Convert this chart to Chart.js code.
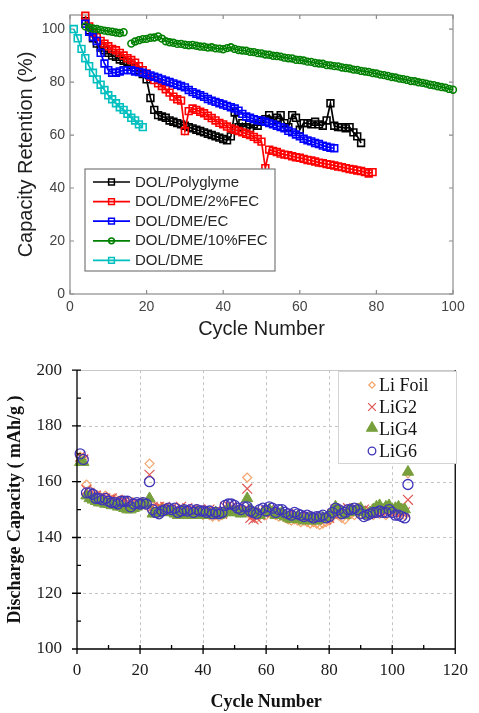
<!DOCTYPE html>
<html><head><meta charset="utf-8">
<script src="https://cdn.jsdelivr.net/npm/chart.js@4.4.1/dist/chart.umd.min.js"></script>
<style>
html,body{margin:0;padding:0;background:#fff;}
#wrap{position:relative;width:479px;height:713px;overflow:hidden;}
canvas{position:absolute;left:0;}
</style>
</head><body>
<div id="wrap">
<canvas id="topChart" width="479" height="345" style="top:0"></canvas>
<canvas id="botChart" width="479" height="368" style="top:345px"></canvas>
</div>
<script>
// ---------- TOP CHART DATA ----------
const topCycles = [1,2,3,4,5,6,7,8,9,10,11,12,13,14,15,16,17,18,19,20,21,22,23,24,25,26,27,28,29,30,31,32,33,34,35,36,37,38,39,40,41,42,43,44,45,46,47,48,49,50,51,52,53,54,55,56,57,58,59,60,61,62,63,64,65,66,67,68,69,70,71,72,73,74,75,76,77,78,79,80,81,82,83,84,85,86,87,88,89,90,91,92,93,94,95,96,97,98,99,100];
const topXTicks = [0,20,40,60,80,100];
const topYTicks = [0,20,40,60,80,100];
const topNames = ['DOL/Polyglyme','DOL/DME/2%FEC','DOL/DME/EC','DOL/DME/10%FEC','DOL/DME'];
const polyglyme = [null,null,null,103,99.5,96.5,94.5,93,92,91,90,89.5,88.5,88,87.5,86.5,85.5,84.5,83,81,74,69.5,67.5,67,66.5,65.5,65,64.5,64,63.5,63,62.5,62,61.5,61,60.5,60,59.5,59,58.5,58,59.5,68.5,63,64.5,63,62.5,64,63.5,65,66,67.5,65.5,66.5,67.5,64.5,63,67.5,66.5,62,64.5,64.5,64,65,64,63.5,65.5,72,63.5,63,63,62.5,63,61,59.5,57];
const fec2 = [null,null,null,105,101,98.5,97,95.5,94.5,93.5,92.5,92,91,90,89,88.3,87.3,86,84.5,83.2,82,80.7,79.5,78.5,77.3,76,74.5,73.5,73,61.5,69,70,69.5,68.8,68.2,67.3,66.4,65.5,64.6,64,63.2,62.5,62,61.5,61,60.5,60,59.3,58.5,57.5,47.5,54.5,54,53.6,53,52.6,52.4,52,51.6,51.4,51,50.6,50.4,50,49.6,49.4,49,48.8,48.5,48.1,47.9,47.5,47.2,47,46.6,46.4,46,45.5,46];
const ecSeries = [null,null,null,102,99,97,95.5,91,87,84.5,83.5,83.5,84,84.5,84.5,84.5,84,83.8,83.5,83,82.5,82,81.5,81,80.5,80,79.5,79,78.5,78,77,76.2,75.6,75,74.4,73.6,73,72.5,72,71.5,71,70.5,70,69.2,68,67,66.5,66,65.6,65.4,65,64.5,64,63.5,63,62.5,61.6,61,60.2,59.5,58.6,58,57.6,57,56.6,56,55.6,55.2,55];
const fec10 = [null,null,null,101,100.5,100.2,100,99.7,99.4,99.2,99,98.7,98.5,98.8,null,94.5,95.3,95.8,96.2,96.3,96.7,96.8,97.2,96.4,95.4,95.0,94.8,94.4,94.4,94.1,93.9,94.0,93.7,93.4,93.3,93.0,93.1,92.7,92.6,92.4,92.8,93.1,92.5,92.1,91.9,91.8,91.4,91.3,90.9,90.8,90.4,90.3,89.9,89.8,89.6,89.2,89.0,88.9,88.4,88.3,88.1,87.7,87.6,87.2,87.0,86.9,86.4,86.3,86.0,85.9,85.5,85.3,85.1,84.7,84.6,84.2,84.0,83.8,83.4,83.2,82.8,82.6,82.3,81.9,81.7,81.3,81.1,80.8,80.4,80.3,79.9,79.7,79.4,79.0,78.8,78.4,78.1,77.9,77.4,77.1];
const dolDme = [100,96.5,92.5,89,86,83.5,81,79,77,75,73.5,72,70.5,69.5,68,66.5,65.5,64,63];

// ---------- BOTTOM CHART DATA ----------
const botCycles = [1,2,3,4,5,6,7,8,9,10,11,12,13,14,15,16,17,18,19,20,21,22,23,24,25,26,27,28,29,30,31,32,33,34,35,36,37,38,39,40,41,42,43,44,45,46,47,48,49,50,51,52,53,54,55,56,57,58,59,60,61,62,63,64,65,66,67,68,69,70,71,72,73,74,75,76,77,78,79,80,81,82,83,84,85,86,87,88,89,90,91,92,93,94,95,96,97,98,99,100,101,102,103,104,105];
const botXTicks = [0,20,40,60,80,100,120];
const botYTicks = [100,120,140,160,180,200];
const botNames = ['Li Foil','LiG2','LiG4','LiG6'];
const liFoil = [169,168.5,159,157,156,155,155,154,155,154,
153.5,154,153,153.5,152.5,153,152,152.5,152,151.5,
152,151.5,166.5,151,150.5,150,151,150.5,150,149.5,
150,149,150,149.5,149,148.5,149,148.5,149,148,
148.5,148,147.5,148,147.5,148,150,150.5,150,149.5,
150,149,149.5,161.5,148,147.5,147,148,148.5,148,
149,148.5,148,147.5,148,147,146.5,146,146.5,146,
145.5,146,145.5,145,145.5,145,144.5,145,145.5,146,
147.5,148.5,148,147,146.5,148,148.5,148,149,148.5,
149,148,148.5,148,149,148.5,149,148,149,149.5,
148.5,149,148.5,148,163];
const liG2 = [169,168,157,156,155,155,154,154.5,154,153.5,
154,153,153.5,152.5,153,152.5,152,151.5,152.5,152,
152,152.5,162.5,151,150,151,150.5,151,150,150.5,
150,149.5,151,150,150.5,149.5,150,149.5,150,149,
149.5,150,149,149.5,149,148.5,151,151.5,151,150,
150.5,149.5,150,157.5,147,146.5,147,148,149,149.5,
150,149,148.5,149,148.5,148,148.5,147.5,148,147,
147.5,147,147.5,146.5,147,146.5,147,147.5,146.5,147,
148.5,150,149.5,149,149.5,150.5,150,150.5,150,149.5,
150,149,149.5,149,150,149.5,150,149.5,150,150.5,
149,149.5,149,149,153.5];
const liG4 = [167,167,155,154,153.5,153,152.5,152.5,152,152,
151.5,151.5,151,151,150.5,150,150,150.5,151,151.5,
152,152,154,148.5,148.5,149,149.5,149,149.5,149,
148.5,148,149,149.5,148,148.5,148,149,148.5,148,
148,148.5,148,149,148,148.5,149,150,149,149,
149,148.5,149,154,150,149,148.5,148,149,149,
150,149,148,148.5,149,147.5,147,146.5,147,147.5,
146.5,146,146.5,147,146,146,146.5,147,147,148,
149,151,150,149,148,149.5,150,149,150,150.5,
149,148,149,150,151,151.5,150,151,151.5,150,
150.5,151,150,150,163.5];
const liG6 = [170,168,156,156,155.5,154,154,153.5,154,153,
152.5,152.5,152,153,153,153,151,152,152.5,152,
152.5,152,160,150,149,148.5,149.5,150,150.5,150,
150.5,149,149.5,150,149.5,150,149,150,149.5,149.5,
149,149.5,148.5,149,148.5,149,151.5,152,152,151.5,
150.5,150,151,151,149.5,149,148.5,150,150.5,149.5,
151,150.5,149,150,150,149,148.5,148,149,148.5,
148,147.5,148,147.5,147,147.5,147.5,148,147,147.5,
149,150.5,150,148.5,149,150,150,150.5,150,148.5,
147.5,148,148.5,149,149,149.5,149,149,150,149,
148,148,147.5,147,159];

// ---------- helpers ----------
function pts(cycles, vals){ return cycles.map((c,i)=>({x:c, y:(vals[i]===undefined?null:vals[i])})); }
function drawMark(ctx, opts, x, y){
  if (Chart.helpers && Chart.helpers.drawPoint) { Chart.helpers.drawPoint(ctx, opts, x, y); }
  else { ctx.beginPath(); ctx.arc(x,y,opts.radius,0,Math.PI*2); ctx.fill(); ctx.stroke(); }
}
Chart.defaults.devicePixelRatio = 1;

const SANS = '"Liberation Sans", Arial, sans-serif';
const SERIF = '"Liberation Serif", "Times New Roman", serif';

// ---------- TOP CHART ----------
const topStyles = [
  {color:'#000000', shape:'rect', r:4.8, order:4},
  {color:'#ff0000', shape:'rect', r:4.8, order:3},
  {color:'#0000ff', shape:'rect', r:4.8, order:2},
  {color:'#008000', shape:'circle', r:3.4, order:1},
  {color:'#00bfbf', shape:'rect', r:4.8, order:0}
];
const topSeries = [polyglyme, fec2, ecSeries, fec10, dolDme];

const topFrame = {
  id:'topFrame',
  beforeDatasetsDraw(chart){
    const {ctx, chartArea:a, scales:{x,y}} = chart;
    ctx.save();
    ctx.strokeStyle = '#8c8c8c'; ctx.lineWidth = 1.2;
    ctx.strokeRect(a.left, a.top, a.right-a.left, a.bottom-a.top);
    ctx.beginPath();
    topXTicks.forEach(v=>{ const p=x.getPixelForValue(v); ctx.moveTo(p,a.bottom); ctx.lineTo(p,a.bottom-4); ctx.moveTo(p,a.top); ctx.lineTo(p,a.top+4); });
    topYTicks.forEach(v=>{ const p=y.getPixelForValue(v); ctx.moveTo(a.left,p); ctx.lineTo(a.left+4,p); ctx.moveTo(a.right,p); ctx.lineTo(a.right-4,p); });
    ctx.stroke();
    ctx.restore();
  },
  afterDatasetsDraw(chart){
    const {ctx} = chart;
    ctx.save();
    const bx=85, by=169, bw=190, bh=102;
    ctx.fillStyle='#ffffff'; ctx.fillRect(bx,by,bw,bh);
    ctx.strokeStyle='#7a7a7a'; ctx.lineWidth=1.2; ctx.strokeRect(bx,by,bw,bh);
    chart.data.datasets.forEach((ds,i)=>{
      const yy = by + 13 + i*19.6;
      ctx.strokeStyle = ds.borderColor; ctx.lineWidth = 1.7;
      ctx.beginPath(); ctx.moveTo(bx+8,yy); ctx.lineTo(bx+45,yy); ctx.stroke();
      ctx.fillStyle='rgba(0,0,0,0)'; ctx.lineWidth=1.5;
      drawMark(ctx,{pointStyle:ds.pointStyle, radius:ds.pointRadius*0.85, borderWidth:1.5, rotation:0}, bx+26.5, yy);
      ctx.fillStyle='#262626'; ctx.font='15px '+SANS; ctx.textBaseline='middle'; ctx.textAlign='left';
      ctx.fillText(ds.label, bx+50, yy+0.5);
    });
    ctx.restore();
  }
};

new Chart(document.getElementById('topChart'), {
  type:'scatter',
  data:{ datasets: topSeries.map((vals,i)=>({
    label: topNames[i], data: pts(topCycles, vals), showLine:true, spanGaps:false,
    borderColor: topStyles[i].color, backgroundColor:'rgba(0,0,0,0)',
    pointBorderColor: topStyles[i].color, pointBackgroundColor:'rgba(0,0,0,0)',
    pointStyle: topStyles[i].shape, pointRadius: topStyles[i].r, pointBorderWidth:1.6,
    borderWidth:1.7, order: topStyles[i].order, clip:false
  }))},
  options:{
    responsive:false, animation:false, events:[],
    layout:{padding:{left:0, right:26, top:15, bottom:0}},
    plugins:{legend:{display:false}, tooltip:{enabled:false}, title:{display:false}},
    scales:{
      x:{type:'linear', min:0, max:100, position:'bottom',
         afterBuildTicks:s=>{ s.ticks = topXTicks.map(v=>({value:v})); },
         afterFit:s=>{ s.height = 51; },
         grid:{display:false, drawTicks:false}, border:{display:false},
         ticks:{padding:5, color:'#444444', font:{family:SANS, size:14}, maxRotation:0, autoSkip:false},
         title:{display:true, text:'Cycle Number', color:'#1e1e1e', font:{family:SANS, size:20}, padding:{top:0, bottom:4}}},
      y:{type:'linear', min:0, max:105.3,
         afterBuildTicks:s=>{ s.ticks = topYTicks.map(v=>({value:v})); },
         afterFit:s=>{ s.width = 70; },
         grid:{display:false, drawTicks:false}, border:{display:false},
         ticks:{padding:5, color:'#444444', font:{family:SANS, size:14}},
         title:{display:true, text:'Capacity Retention (%)', color:'#1e1e1e', font:{family:SANS, size:20}, padding:{top:14, bottom:0}}}
    }
  },
  plugins:[topFrame]
});

// ---------- BOTTOM CHART ----------
const botStyles = [
  {color:'#f5a46c', fill:'rgba(0,0,0,0)', shape:'rectRot', r:4.5, bw:1.2, order:3},
  {color:'#e05555', fill:'rgba(0,0,0,0)', shape:'crossRot', r:7, bw:1.2, order:2},
  {color:'#77a03c', fill:'#77a03c', shape:'triangle', r:6.5, bw:1, order:1},
  {color:'#3f35b8', fill:'rgba(0,0,0,0)', shape:'circle', r:5, bw:1.3, order:0}
];
const botSeries = [liFoil, liG2, liG4, liG6];

const botFrame = {
  id:'botFrame',
  beforeDatasetsDraw(chart){
    const {ctx, chartArea:a, scales:{x,y}} = chart;
    ctx.save();
    ctx.strokeStyle='#c4c4c4'; ctx.lineWidth=1; ctx.setLineDash([3,3]);
    ctx.beginPath();
    botXTicks.forEach(v=>{ if(v>0 && v<120){ const p=Math.round(x.getPixelForValue(v))+0.5; ctx.moveTo(p,a.top); ctx.lineTo(p,a.bottom); }});
    botYTicks.forEach(v=>{ if(v>100 && v<200){ const p=Math.round(y.getPixelForValue(v))+0.5; ctx.moveTo(a.left,p); ctx.lineTo(a.right,p); }});
    ctx.stroke();
    ctx.setLineDash([]);
    ctx.strokeStyle='#c8c8c8';
    ctx.beginPath(); const pt=Math.round(y.getPixelForValue(200))+0.5; ctx.moveTo(a.left,pt); ctx.lineTo(a.right,pt); ctx.stroke();
    ctx.restore();
  },
  afterDatasetsDraw(chart){
    const {ctx, chartArea:a, scales:{x,y}} = chart;
    ctx.save();
    ctx.strokeStyle='#000'; ctx.lineWidth=1.3;
    ctx.beginPath();
    ctx.moveTo(a.left,a.top); ctx.lineTo(a.left,a.bottom); ctx.lineTo(a.right,a.bottom); ctx.lineTo(a.right,a.top);
    botXTicks.forEach(v=>{ const p=x.getPixelForValue(v); ctx.moveTo(p,a.bottom-4); ctx.lineTo(p,a.bottom+5); });
    botYTicks.forEach(v=>{ const p=y.getPixelForValue(v); ctx.moveTo(a.left-5,p); ctx.lineTo(a.left+4,p); });
    botXTicks.slice(0,-1).forEach(v=>{ const p=x.getPixelForValue(v+10); ctx.moveTo(p,a.bottom); ctx.lineTo(p,a.bottom-4); });
    botYTicks.slice(0,-1).forEach(v=>{ const p=y.getPixelForValue(v+10); ctx.moveTo(a.left,p); ctx.lineTo(a.left+4,p); });
    ctx.stroke();
    const bx=338, by=26, bw=118, bh=92;
    ctx.fillStyle='#ffffff'; ctx.fillRect(bx,by,bw,bh);
    ctx.strokeStyle='#d4d4d4'; ctx.lineWidth=1; ctx.strokeRect(bx+0.5,by+0.5,bw,bh);
    const lr = [3.2, 5.5, 6.5, 3.8];
    chart.data.datasets.forEach((ds,i)=>{
      const yy = by + 14 + i*22;
      ctx.strokeStyle = ds.pointBorderColor; ctx.fillStyle = ds.pointBackgroundColor; ctx.lineWidth = ds.pointBorderWidth;
      drawMark(ctx,{pointStyle:ds.pointStyle, radius:lr[i], borderWidth:ds.pointBorderWidth, rotation:0}, bx+34, yy + (i===2?-1:0));
      ctx.fillStyle='#111111'; ctx.font='18px '+SERIF; ctx.textBaseline='middle'; ctx.textAlign='left';
      ctx.fillText(ds.label, bx+41, yy+1);
    });
    ctx.restore();
  }
};

new Chart(document.getElementById('botChart'), {
  type:'scatter',
  data:{ datasets: botSeries.map((vals,i)=>({
    label: botNames[i], data: pts(botCycles, vals), showLine:false,
    pointBorderColor: botStyles[i].color, pointBackgroundColor: botStyles[i].fill,
    borderColor: botStyles[i].color, backgroundColor: botStyles[i].fill,
    pointStyle: botStyles[i].shape, pointRadius: botStyles[i].r, pointBorderWidth: botStyles[i].bw,
    order: botStyles[i].order, clip:false
  }))},
  options:{
    responsive:false, animation:false, events:[],
    layout:{padding:{left:0, right:16, top:23, bottom:0}},
    plugins:{legend:{display:false}, tooltip:{enabled:false}, title:{display:false}},
    scales:{
      x:{type:'linear', min:0, max:120, position:'bottom',
         afterBuildTicks:s=>{ s.ticks = botXTicks.map(v=>({value:v})); },
         afterFit:s=>{ s.height = 64; },
         grid:{display:false, drawTicks:false}, border:{display:false},
         ticks:{padding:11, color:'#1a1a1a', font:{family:SERIF, size:17}, maxRotation:0, autoSkip:false},
         title:{display:true, text:'Cycle Number', color:'#111', font:{family:SERIF, size:18, weight:'bold'}, padding:{top:0, bottom:0}}},
      y:{type:'linear', min:100, max:200,
         afterBuildTicks:s=>{ s.ticks = botYTicks.map(v=>({value:v})); },
         afterFit:s=>{ s.width = 77; },
         grid:{display:false, drawTicks:false}, border:{display:false},
         ticks:{padding:15, color:'#1a1a1a', font:{family:SERIF, size:17}},
         title:{display:true, text:'Discharge Capacity ( mAh/g )', color:'#111', font:{family:SERIF, size:18, weight:'bold'}, padding:{top:5, bottom:0}}}
    }
  },
  plugins:[botFrame]
});
</script>
</body></html>
